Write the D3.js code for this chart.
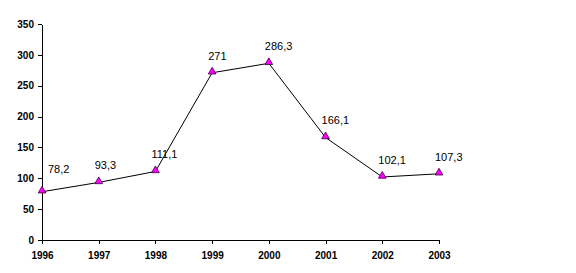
<!DOCTYPE html>
<html>
<head>
<meta charset="utf-8">
<script src="https://cdn.jsdelivr.net/npm/d3@7"></script>
<style>
	body { margin: 0; background: #fff; }
	svg text { font-family: Arial, "Liberation Sans", sans-serif; }
</style>
</head>
<body>
<svg id="chart" width="576" height="273"></svg>
<script>
// chart data
var years = ['1996', '1997', '1998', '1999', '2000', '2001', '2002', '2003'];
var values = [78.2, 93.3, 111.1, 271, 286.3, 166.1, 102.1, 107.3];
var yTicks = [0, 50, 100, 150, 200, 250, 300, 350];

var svg = d3.select('#chart');
var plotLeft = 42, plotRight = 439, plotTop = 24, plotBottom = 240;

var x = d3.scalePoint().domain(years).range([plotLeft, plotRight]);
var y = d3.scaleLinear().domain([0, 350]).range([plotBottom, plotTop]);

//y axis
svg.append('g')
	.attr('transform', 'translate(' + plotLeft + ',0)')
	.call(d3.axisLeft(y).tickValues(yTicks).tickSize(4).tickSizeOuter(0).tickPadding(4));

//x axis
svg.append('g')
	.attr('transform', 'translate(0,' + plotBottom + ')')
	.call(d3.axisBottom(x).tickSize(4).tickSizeOuter(0).tickPadding(8));

svg.selectAll('.domain, .tick line').attr('stroke', '#000').attr('shape-rendering', 'crispEdges');
svg.selectAll('.tick text')
	.attr('font-family', 'Arial, "Liberation Sans", sans-serif')
	.attr('font-size', 10)
	.attr('font-weight', 'bold')
	.attr('fill', '#000');

//line
var line = d3.line()
	.x(function(d, i) { return x(years[i]); })
	.y(function(d) { return y(d); });

svg.append('path')
	.datum(values)
	.attr('fill', 'none')
	.attr('stroke', '#000')
	.attr('stroke-width', 1)
	.attr('d', line);

//triangle markers
var tri = d3.symbol().type(d3.symbolTriangle).size(26);
svg.selectAll('.marker')
	.data(values)
	.enter().append('path')
	.attr('class', 'marker')
	.attr('d', tri)
	.attr('transform', function(d, i) { return 'translate(' + x(years[i]) + ',' + (y(d) - 1) + ')'; })
	.attr('fill', '#ff00ff')
	.attr('stroke', '#400040')
	.attr('stroke-width', 0.8);

//data labels
svg.selectAll('.lbl')
	.data(values)
	.enter().append('text')
	.attr('class', 'lbl')
	.attr('x', function(d, i) { return Math.max(x(years[i]) - 4, plotLeft + 6); })
	.attr('y', function(d, i) { return y(d) - (i === 0 ? 19 : 13); })
	.attr('font-size', 11)
	.attr('fill', '#000')
	.text(function(d) { return String(d).replace('.', ','); });
</script>
</body>
</html>
